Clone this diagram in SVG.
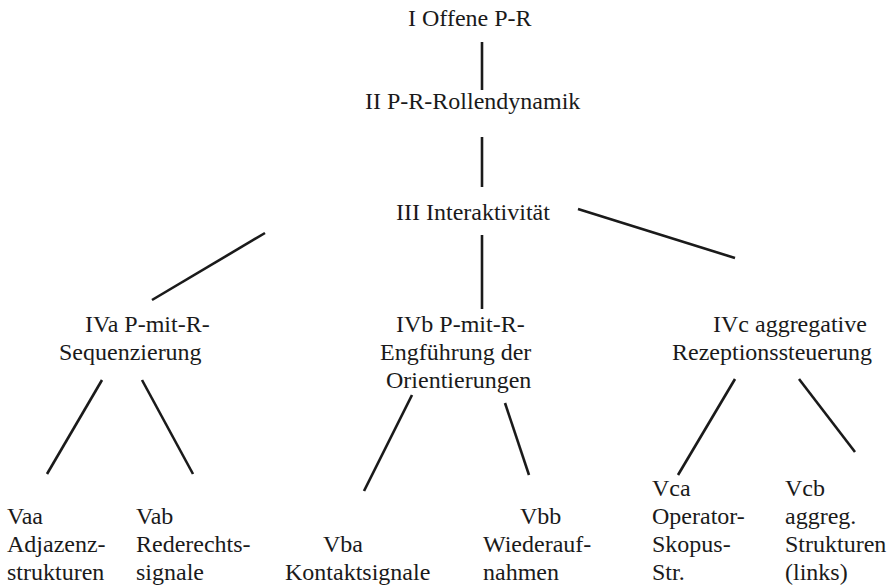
<svg xmlns="http://www.w3.org/2000/svg" width="891" height="587" viewBox="0 0 891 587">
<style>
text{font-family:"Liberation Serif","Times New Roman",serif;font-size:24px;fill:#1a1a1a}
.c line{stroke:#1a1a1a;stroke-width:2.6;stroke-linecap:butt}
</style>
<rect width="891" height="587" fill="#fff"/>
<g class="c" id="connectors">
<line x1="482" y1="42" x2="482" y2="90"/>
<line x1="482" y1="137" x2="482" y2="187"/>
<line x1="482" y1="235" x2="482" y2="309"/>
<line x1="265" y1="233" x2="152" y2="300"/>
<line x1="578" y1="209" x2="735" y2="258"/>
<line x1="102" y1="380" x2="47" y2="474"/>
<line x1="142" y1="380" x2="193" y2="474"/>
<line x1="412" y1="395" x2="364" y2="491"/>
<line x1="505" y1="403" x2="529" y2="475"/>
<line x1="735" y1="379" x2="678" y2="475"/>
<line x1="799" y1="379" x2="855" y2="452"/>
</g>
<g id="n1"><text x="408" y="26">I Offene P-R</text></g>
<g id="n2"><text x="365" y="109">II P-R-Rollendynamik</text></g>
<g id="n3"><text x="396" y="220">III Interaktivität</text></g>
<g id="n4a"><text x="85" y="332">IVa P-mit-R-</text><text x="59" y="360">Sequenzierung</text></g>
<g id="n4b"><text x="396" y="332">IVb P-mit-R-</text><text x="380" y="360">Engführung der</text><text x="386" y="388">Orientierungen</text></g>
<g id="n4c"><text x="713" y="332">IVc aggregative</text><text x="672" y="360">Rezeptionssteuerung</text></g>
<g id="n5aa"><text x="7" y="524">Vaa</text><text x="7" y="552">Adjazenz-</text><text x="7" y="580">strukturen</text></g>
<g id="n5ab"><text x="136" y="524">Vab</text><text x="136" y="552">Rederechts-</text><text x="136" y="580">signale</text></g>
<g id="n5ba"><text x="323" y="552">Vba</text><text x="285" y="580">Kontaktsignale</text></g>
<g id="n5bb"><text x="520" y="524">Vbb</text><text x="483" y="552">Wiederauf-</text><text x="483" y="580">nahmen</text></g>
<g id="n5ca"><text x="652" y="496">Vca</text><text x="652" y="524">Operator-</text><text x="652" y="552">Skopus-</text><text x="652" y="580">Str.</text></g>
<g id="n5cb"><text x="785" y="496">Vcb</text><text x="785" y="524">aggreg.</text><text x="785" y="552">Strukturen</text><text x="785" y="580">(links)</text></g>
</svg>
